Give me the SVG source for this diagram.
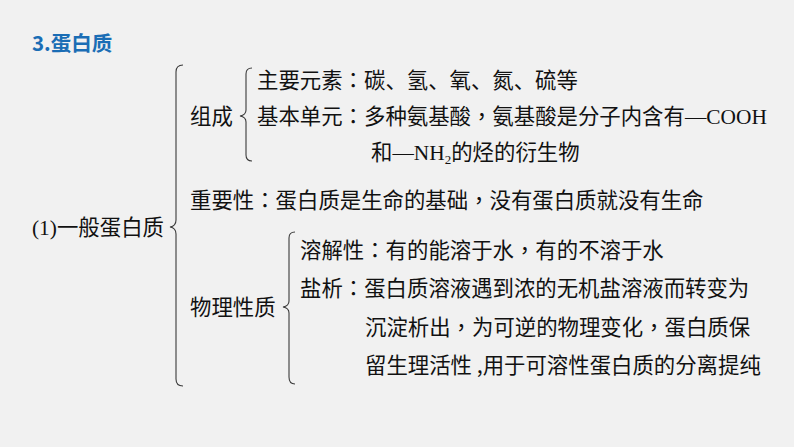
<svg xmlns="http://www.w3.org/2000/svg" width="794" height="447" viewBox="0 0 794 447">
<style>
.t{font-family:"Microsoft YaHei","Noto Sans CJK SC","Noto Sans",sans-serif;font-size:21.4px;fill:#111}
.r{font-family:"Liberation Serif","Times New Roman",serif}
.p{font-family:"Noto Sans CJK TC","Noto Sans CJK SC",sans-serif}
.title{font-family:"Noto Sans CJK SC",sans-serif;font-size:20.5px;font-weight:bold;fill:#1a6db5}
.b{fill:none;stroke:#3a3a3a;stroke-width:1.1}
</style>
<rect width="794" height="447" fill="#f1f1f1"/>
<text class="title" x="32" y="51">3.蛋白质</text>
<g id="connectors">
<path class="b" d="M183,65 Q176,65 176,72 L176,220 Q176,226 170,227 Q176,228 176,234 L176,379 Q176,386 183,386"/>
<path class="b" d="M252,68 Q246,68 246,74 L246,110 Q246,115 240,116 Q246,117 246,122 L246,155 Q246,161 252,161"/>
<path class="b" d="M295,232 Q289,232 289,238 L289,301 Q289,306 283,307 Q289,308 289,313 L289,377 Q289,384 295,384"/>
</g>
<g id="root"><text class="t" x="32" y="235"><tspan class="r">(1)</tspan>一般蛋白质</text></g>
<g id="zucheng"><text class="t" x="190" y="124">组成</text></g>
<g id="yuansu"><text class="t" x="257" y="88">主要元素<tspan class="p">：</tspan>碳、氢、氧、氮、硫等</text></g>
<g id="danyuan">
<text class="t" x="257" y="124">基本单元<tspan class="p">：</tspan>多种氨基酸<tspan class="p">，</tspan>氨基酸是分子内含有<tspan class="r">—COOH</tspan></text>
<text class="t" x="371" y="160">和<tspan class="r">—NH</tspan><tspan class="r" font-size="13" dy="4">2</tspan><tspan dy="-4">的烃的衍生物</tspan></text>
</g>
<g id="zhongyao"><text class="t" x="190" y="208">重要性<tspan class="p">：</tspan>蛋白质是生命的基础<tspan class="p">，</tspan>没有蛋白质就没有生命</text></g>
<g id="wuli"><text class="t" x="190" y="315">物理性质</text></g>
<g id="rongjie"><text class="t" x="300" y="258">溶解性<tspan class="p">：</tspan>有的能溶于水<tspan class="p">，</tspan>有的不溶于水</text></g>
<g id="yanxi">
<text class="t" x="300" y="296">盐析<tspan class="p">：</tspan>蛋白质溶液遇到浓的无机盐溶液而转变为</text>
<text class="t" x="365" y="335">沉淀析出<tspan class="p">，</tspan>为可逆的物理变化<tspan class="p">，</tspan>蛋白质保</text>
<text class="t" x="365" y="373">留生理活性 ,用于可溶性蛋白质的分离提纯</text>
</g>
</svg>
